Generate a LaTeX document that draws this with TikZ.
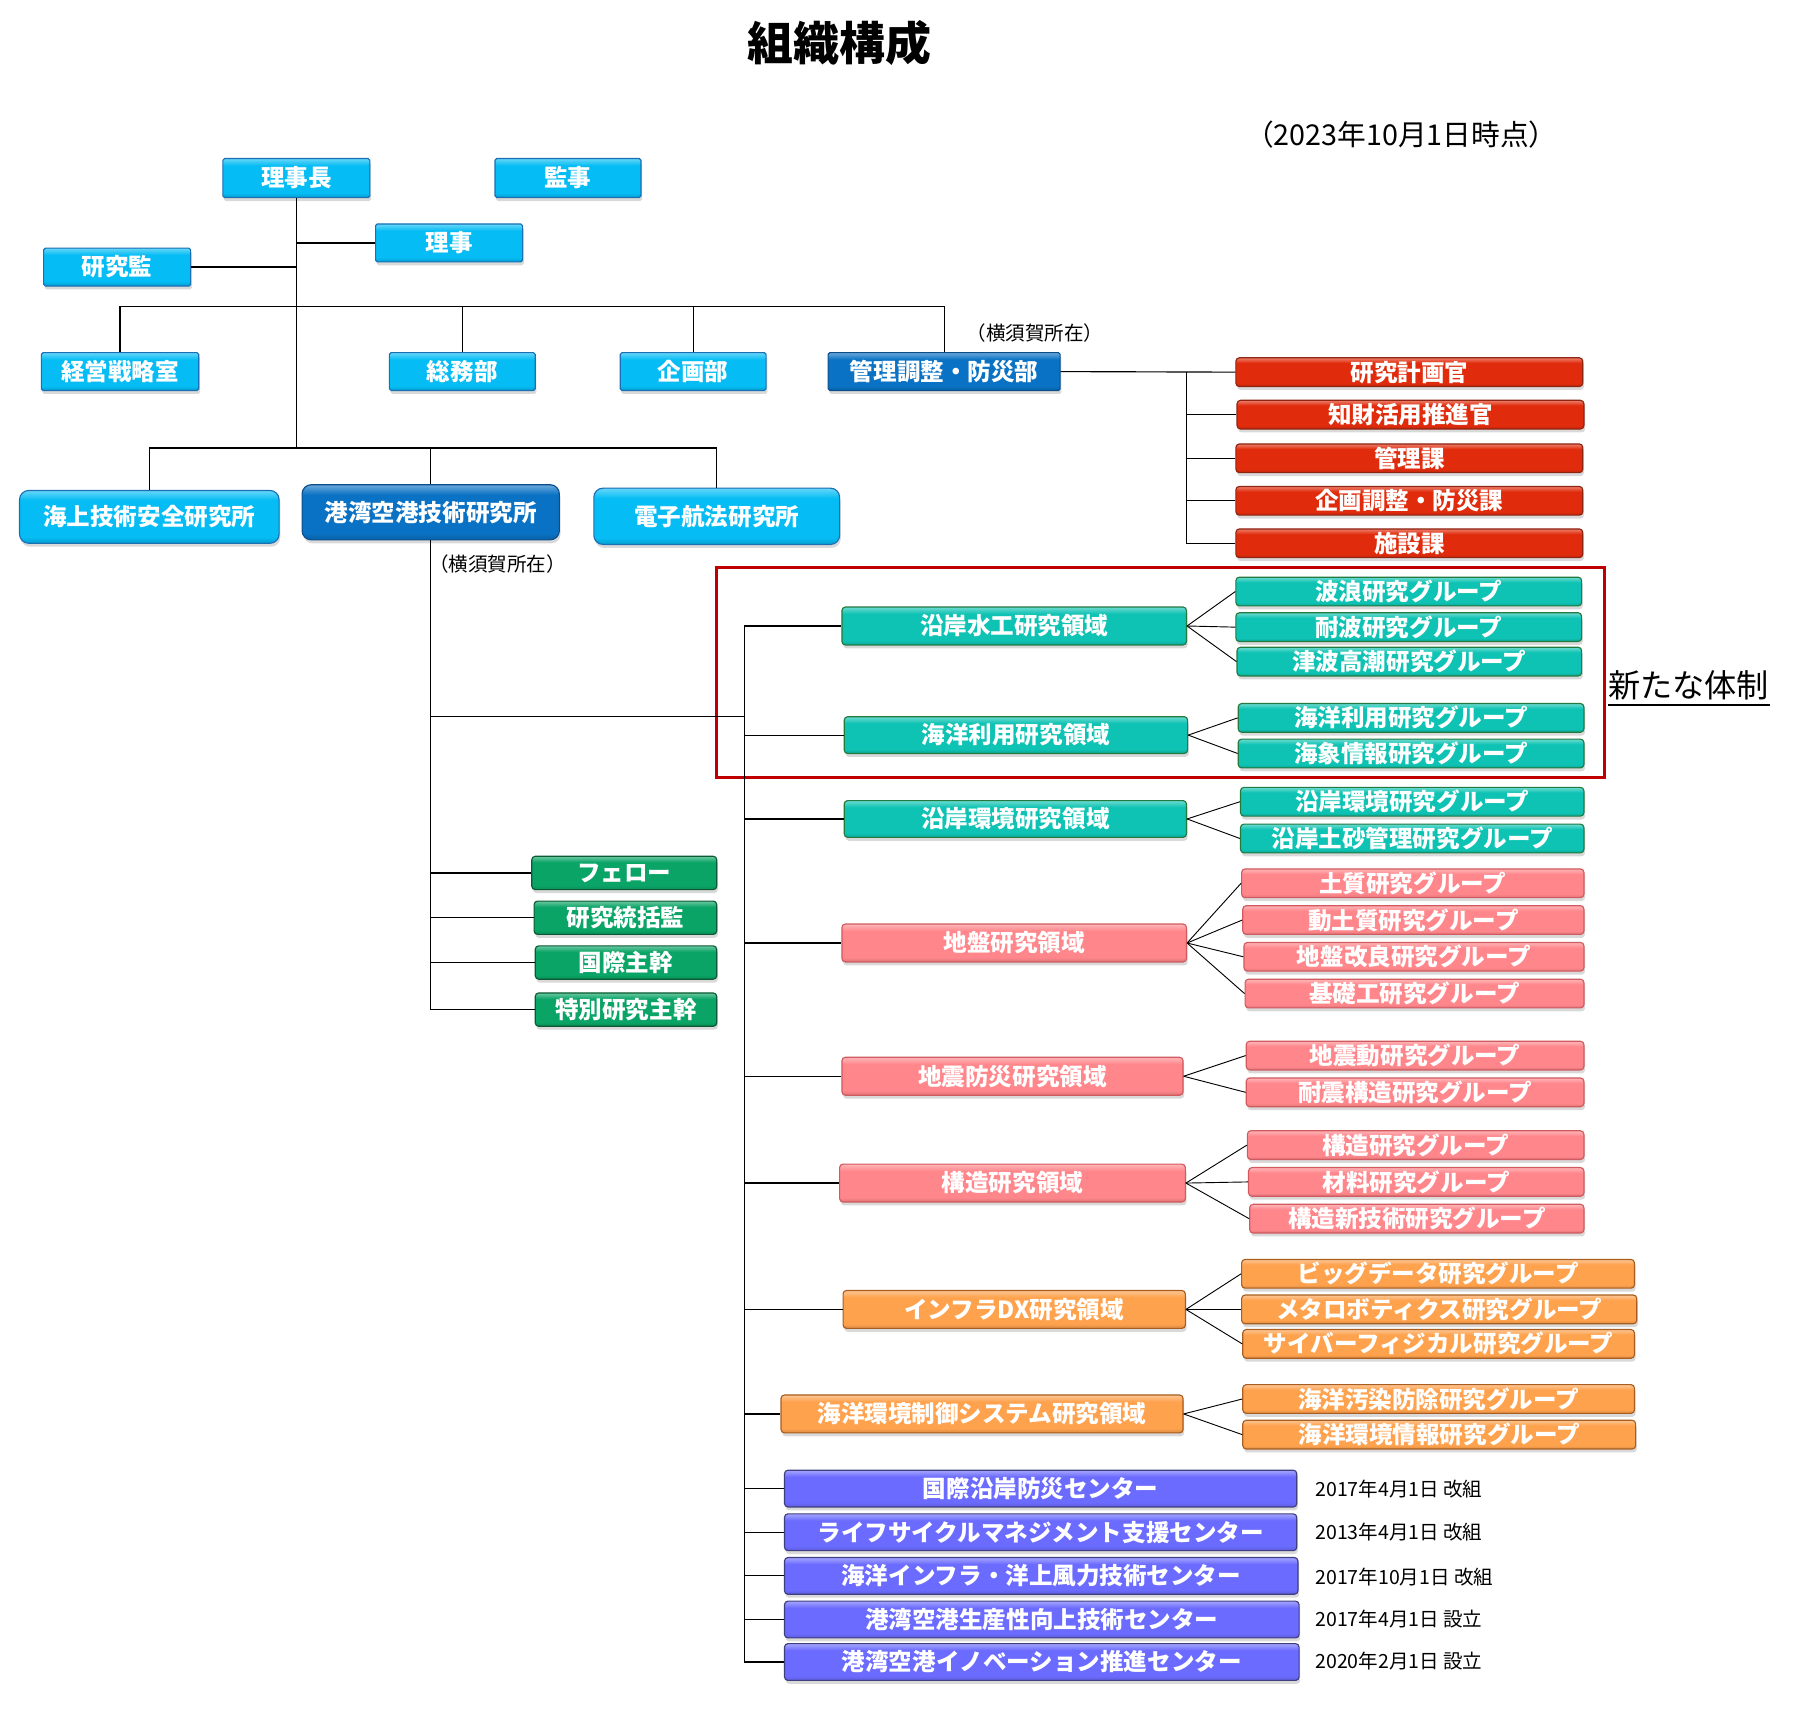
\documentclass[tikz,border=0pt]{standalone}
\usepackage{fontspec}
\newfontfamily\jp{Noto Sans CJK JP}
\usetikzlibrary{shadows}
\definecolor{cLB}{HTML}{05BCF4}
\definecolor{cLBd}{HTML}{1A6FB5}
\definecolor{cDB}{HTML}{0A72C4}
\definecolor{cDBd}{HTML}{0B4E8A}
\definecolor{cRD}{HTML}{E02C0C}
\definecolor{cRDd}{HTML}{8E2412}
\definecolor{cTL}{HTML}{0EC3B3}
\definecolor{cTLd}{HTML}{237A3E}
\definecolor{cGR}{HTML}{0AA466}
\definecolor{cGRd}{HTML}{0C5A32}
\definecolor{cPK}{HTML}{FF878C}
\definecolor{cPKd}{HTML}{D05A5E}
\definecolor{cOR}{HTML}{FFA24E}
\definecolor{cORd}{HTML}{A85E20}
\definecolor{cPU}{HTML}{6B6BFF}
\definecolor{cPUd}{HTML}{3F3F80}
\definecolor{cFR}{HTML}{C00000}
\colorlet{gtop}{white}
\colorlet{gmid}{gray}
\colorlet{gbot}{black}
\pgfdeclareverticalshading[gtop,gmid,gbot]{gloss}{100bp}{%
  color(0bp)=(gbot); color(25bp)=(gbot); color(31bp)=(gmid); color(66bp)=(gmid); color(74bp)=(gtop); color(100bp)=(gtop)}
\tikzset{
  base/.style={rectangle, inner sep=0pt, text=white, line width=1pt,
    font=\jp\bfseries\fontsize{20.5}{22}\selectfont,
    drop shadow={opacity=0.3, shadow xshift=1pt, shadow yshift=-3pt}},
  glossy/.style={draw=#1d, shading=gloss,
    /utils/exec={\colorlet{gmid}{#1}\colorlet{gtop}{#1!65!white}\colorlet{gbot}{#1!85!black}}},
  lb/.style={base, rounded corners=1.5pt, glossy=cLB, minimum height=34},
  db/.style={base, rounded corners=1.5pt, glossy=cDB, minimum height=34},
  inst/.style={base, rounded corners=8pt, glossy=cLB, minimum height=47},
  instd/.style={base, rounded corners=8pt, glossy=cDB, minimum height=48},
  rd/.style={base, rounded corners=3pt, glossy=cRD, minimum height=25, minimum width=302},
  tld/.style={base, rounded corners=3pt, glossy=cTL, minimum height=33},
  tlg/.style={base, rounded corners=3pt, glossy=cTL, minimum height=25},
  grn/.style={base, rounded corners=3pt, glossy=cGR, minimum height=29, minimum width=158},
  pkd/.style={base, rounded corners=3pt, glossy=cPK, minimum height=33},
  pkg/.style={base, rounded corners=3pt, glossy=cPK, minimum height=25},
  ord/.style={base, rounded corners=3pt, glossy=cOR, minimum height=33},
  org/.style={base, rounded corners=3pt, glossy=cOR, minimum height=25},
  pu/.style={base, rounded corners=3pt, glossy=cPU, minimum height=32, minimum width=447},
  conn/.style={draw=black, line width=1pt},
  note/.style={font=\jp\fontsize{17}{19}\selectfont, inner sep=0pt},
  datelbl/.style={font=\jp\fontsize{17}{19}\selectfont, inner sep=0pt, anchor=west},
}
\begin{document}
\begin{tikzpicture}[x=1pt, y=-1pt]
\useasboundingbox (0,0) rectangle (1568,1502);

% titles
\node[font=\jp\bfseries\fontsize{40}{44}\selectfont, inner sep=0pt] (title) at (731,37) {組織構成};
\node[font=\jp\fontsize{25}{27}\selectfont, inner sep=0pt] (date) at (1220,117) {（2023年10月1日時点）};

% top level
\node[lb, minimum width=128] (rijicho) at (258,155) {理事長};
\node[lb, minimum width=127] (kanji) at (494.5,155) {監事};
\node[lb, minimum width=128, minimum height=33] (riji) at (391,211.5) {理事};
\node[lb, minimum width=128, minimum height=33] (kenkyukan) at (102,232.5) {研究監};
\node[lb, minimum width=137, minimum height=33] (keiei) at (104.5,323.5) {経営戦略室};
\node[lb, minimum width=127, minimum height=33] (somu) at (402.5,323.5) {総務部};
\node[lb, minimum width=127, minimum height=33] (kikaku) at (603.5,323.5) {企画部};
\node[db, minimum width=202, minimum height=33] (kanri) at (822,323.5) {管理調整・防災部};
\node[note] (yoko1) at (901,290) {（横須賀所在）};

% institutes
\node[inst, minimum width=226, minimum height=46] (kaijo) at (130,450) {海上技術安全研究所};
\node[instd, minimum width=224] (kowan) at (375,446) {港湾空港技術研究所};
\node[inst, minimum width=214, minimum height=49] (denshi) at (624,449.5) {電子航法研究所};
\node[note] (yoko2) at (433,491) {（横須賀所在）};

% red offices
\node[rd] (r1) at (1227,324) {研究計画官};
\node[rd] (r2) at (1228,361) {知財活用推進官};
\node[rd] (r3) at (1227,399) {管理課};
\node[rd] (r4) at (1227,436) {企画調整・防災課};
\node[rd] (r5) at (1227,473) {施設課};

% green
\node[grn, minimum width=161] (g1) at (543.5,760) {フェロー};
\node[grn, minimum width=159] (g2) at (544.5,799) {研究統括監};
\node[grn] (g3) at (545,838) {国際主幹};
\node[grn] (g4) at (545,879) {特別研究主幹};

% teal domains and groups
\node[tld, minimum width=300] (d1) at (883,545) {沿岸水工研究領域};
\node[tld, minimum width=299, minimum height=32] (d2) at (884.5,640) {海洋利用研究領域};
\node[tld, minimum width=298, minimum height=32] (d3) at (884,713) {沿岸環境研究領域};
\node[tlg, minimum width=301] (t11) at (1226.5,515) {波浪研究グループ};
\node[tlg, minimum width=301] (t12) at (1226.5,546) {耐波研究グループ};
\node[tlg, minimum width=300] (t13) at (1227,576) {津波高潮研究グループ};
\node[tlg, minimum width=301] (t21) at (1228.5,625) {海洋利用研究グループ};
\node[tlg, minimum width=301] (t22) at (1228.5,656) {海象情報研究グループ};
\node[tlg, minimum width=299] (t31) at (1229.5,698) {沿岸環境研究グループ};
\node[tlg, minimum width=299] (t32) at (1229.5,730) {沿岸土砂管理研究グループ};

% pink
\node[pkd, minimum width=300] (d4) at (883,821) {地盤研究領域};
\node[pkd, minimum width=297] (d5) at (881.5,937) {地震防災研究領域};
\node[pkd, minimum width=301] (d6) at (881.5,1030) {構造研究領域};
\node[pkg, minimum width=298] (p41) at (1230,769) {土質研究グループ};
\node[pkg, minimum width=297] (p42) at (1230.5,801) {動土質研究グループ};
\node[pkg, minimum width=296] (p43) at (1231,833) {地盤改良研究グループ};
\node[pkg, minimum width=295] (p44) at (1231.5,865) {基礎工研究グループ};
\node[pkg, minimum width=294] (p51) at (1232,919) {地震動研究グループ};
\node[pkg, minimum width=294] (p52) at (1232,951) {耐震構造研究グループ};
\node[pkg, minimum width=293] (p61) at (1232.5,997) {構造研究グループ};
\node[pkg, minimum width=292] (p62) at (1233,1029) {材料研究グループ};
\node[pkg, minimum width=291] (p63) at (1233.5,1061) {構造新技術研究グループ};

% orange
\node[ord, minimum width=298] (d7) at (883,1140) {インフラDX研究領域};
\node[ord, minimum width=350] (d8) at (855,1231) {海洋環境制御システム研究領域};
\node[org, minimum width=342] (o71) at (1252,1109) {ビッグデータ研究グループ};
\node[org, minimum width=344] (o72) at (1253,1140) {メタロボティクス研究グループ};
\node[org, minimum width=341] (o73) at (1252.5,1170) {サイバーフィジカル研究グループ};
\node[org, minimum width=341] (o81) at (1252.5,1218) {海洋汚染防除研究グループ};
\node[org, minimum width=342] (o82) at (1253,1249) {海洋環境情報研究グループ};

% purple centers
\node[pu, minimum width=446] (c1) at (906,1296) {国際沿岸防災センター};
\node[pu, minimum width=446] (c2) at (906,1334) {ライフサイクルマネジメント支援センター};
\node[pu] (c3) at (906.5,1372) {海洋インフラ・洋上風力技術センター};
\node[pu, minimum width=448] (c4) at (907,1410) {港湾空港生産性向上技術センター};
\node[pu, minimum width=448] (c5) at (907,1447) {港湾空港イノベーション推進センター};
\node[datelbl] (e1) at (1145,1296) {2017年4月1日 改組};
\node[datelbl] (e2) at (1145,1334) {2013年4月1日 改組};
\node[datelbl] (e3) at (1145,1373) {2017年10月1日 改組};
\node[datelbl] (e4) at (1145,1410) {2017年4月1日 設立};
\node[datelbl] (e5) at (1145,1446) {2020年2月1日 設立};

% new system frame and label
\draw[cFR, line width=3pt] (624,494) rectangle (1397,677);
\node[font=\jp\fontsize{28}{30}\selectfont, inner sep=0pt] (shin) at (1470,597) {新たな体制};
\coordinate (ulA) at (1400,614);
\coordinate (ulB) at (1541,614);
\draw[line width=2pt] (ulA) -- (ulB);

% ---------- connectors ----------
\coordinate (bus1) at (258,267);
\coordinate (jA) at (258,390);
\draw[conn] (rijicho.south) -- (jA);
\draw[conn] (riji.west) -- (riji.west -| rijicho.south);
\draw[conn] (kenkyukan.east) -- (kenkyukan.east -| rijicho.south);
\draw[conn] (keiei.north) |- (bus1) -| (kanri.north);
\draw[conn] (somu.north) -- (somu.north |- bus1);
\draw[conn] (kikaku.north) -- (kikaku.north |- bus1);
\draw[conn] (kaijo.north) |- (jA) -| (denshi.north);
\draw[conn] (kowan.north) -- (kowan.north |- jA);

% kanri to offices
\coordinate (rb) at (1033,324);
\draw[conn] (kanri.east) -- (r1.west);
\draw[conn] (rb) |- (r5.west);
\draw[conn] (rb |- r2.west) -- (r2.west);
\draw[conn] (rb |- r3.west) -- (r3.west);
\draw[conn] (rb |- r4.west) -- (r4.west);

% kowan trunk
\draw[conn] (kowan.south) -- (kowan.south |- g4.west) -- (g4.west);
\draw[conn] (kowan.south |- g1.west) -- (g1.west);
\draw[conn] (kowan.south |- g2.west) -- (g2.west);
\draw[conn] (kowan.south |- g3.west) -- (g3.west);
\coordinate (mv) at (648,624);
\draw[conn] (kowan.south |- mv) -- (mv);
\draw[conn] (d1.west -| mv) -- (c5.west -| mv);
\foreach \n in {d1,d2,d3,d4,d5,d6,d7,d8,c1,c2,c3,c4,c5}
  \draw[conn] (\n.west -| mv) -- (\n.west);

% fans
\foreach \d/\g in {d1/t11,d1/t12,d1/t13,d2/t21,d2/t22,d3/t31,d3/t32,
                   d4/p41,d4/p42,d4/p43,d4/p44,d5/p51,d5/p52,d6/p61,d6/p62,d6/p63,
                   d7/o71,d7/o72,d7/o73,d8/o81,d8/o82}
  \draw[conn, line width=0.8pt] (\d.east) -- (\g.west);
\end{tikzpicture}
\end{document}
